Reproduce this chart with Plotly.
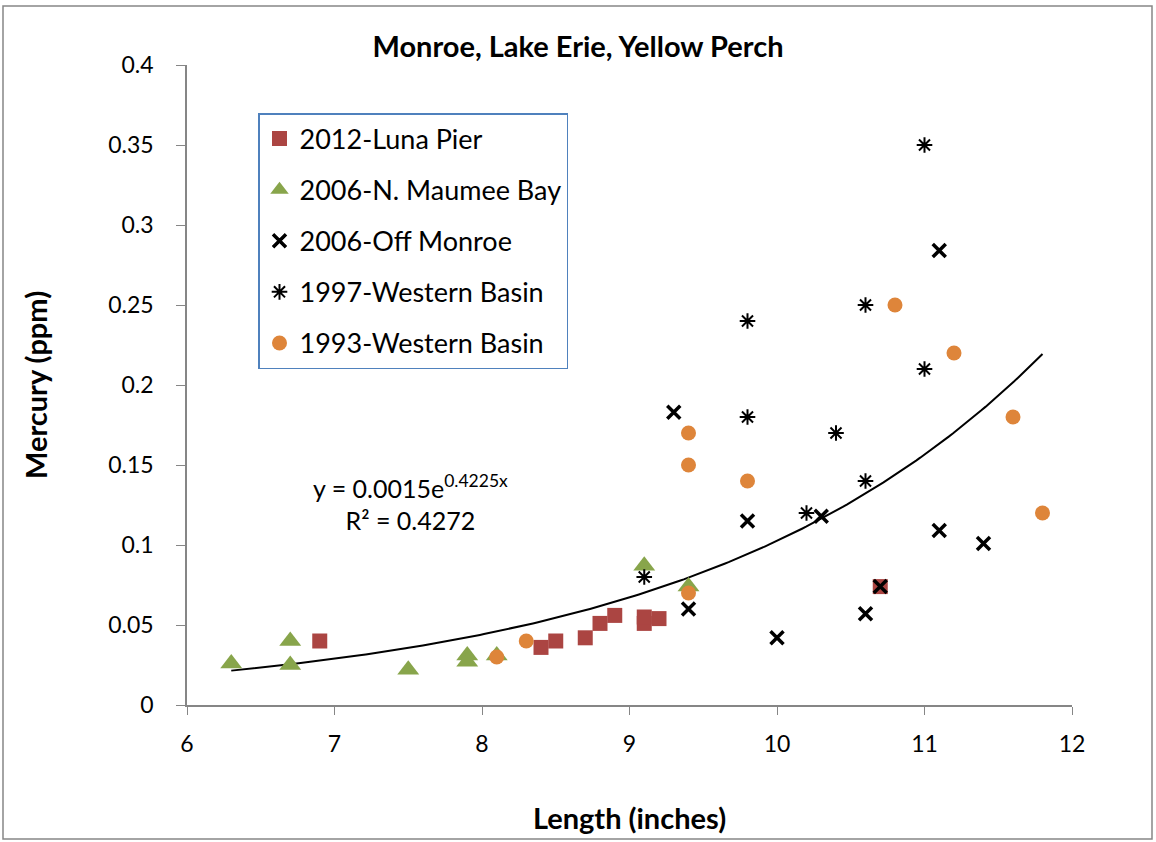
import numpy as np
import plotly.graph_objects as go

# ---------------- data ----------------
luna_x = [6.9, 8.4, 8.5, 8.7, 8.8, 8.9, 9.1, 9.1, 9.2, 10.7]
luna_y = [0.040, 0.036, 0.040, 0.042, 0.051, 0.056, 0.051, 0.055, 0.054, 0.074]

maumee_x = [6.3, 6.7, 6.7, 7.5, 7.9, 7.9, 8.1, 9.1, 9.4]
maumee_y = [0.026, 0.040, 0.025, 0.022, 0.031, 0.027, 0.031, 0.087, 0.074]

monroe_x = [9.3, 9.4, 9.8, 10.0, 10.3, 10.6, 10.7, 11.1, 11.1, 11.4]
monroe_y = [0.183, 0.060, 0.115, 0.042, 0.118, 0.057, 0.074, 0.284, 0.109, 0.101]

wb1997_x = [9.1, 9.8, 9.8, 10.2, 10.4, 10.6, 10.6, 11.0, 11.0]
wb1997_y = [0.080, 0.240, 0.180, 0.120, 0.170, 0.250, 0.140, 0.350, 0.210]

wb1993_x = [8.1, 8.3, 9.4, 9.4, 9.4, 9.8, 10.8, 11.2, 11.6, 11.8]
wb1993_y = [0.030, 0.040, 0.170, 0.150, 0.070, 0.140, 0.250, 0.220, 0.180, 0.120]

series_names = ["2012-Luna Pier", "2006-N. Maumee Bay", "2006-Off Monroe",
                "1997-Western Basin", "1993-Western Basin"]

# exponential trendline shown on the chart: y = a * exp(b x)
TREND_A = 0.0015
TREND_B = 0.4225
TREND_R2 = 0.4272

x_ticks = [6, 7, 8, 9, 10, 11, 12]
y_ticks = [0, 0.05, 0.1, 0.15, 0.2, 0.25, 0.3, 0.35, 0.4]
y_tick_text = ["0", "0.05", "0.1", "0.15", "0.2", "0.25", "0.3", "0.35", "0.4"]

# ---------------- figure ----------------
FONT = "Lato, 'Open Sans', sans-serif"
W, H = 1156, 842
ML, MR, MT, MB = 187, 84, 65, 137
pw = W - ML - MR
ph = H - MT - MB

fig = go.Figure()

all_x = luna_x + maumee_x + monroe_x + wb1997_x + wb1993_x
tx = np.linspace(min(all_x), max(all_x), 200)
ty = TREND_A * np.exp(TREND_B * tx)
fig.add_trace(go.Scatter(x=tx, y=ty, mode="lines", line=dict(color="black", width=2),
                         showlegend=False, hoverinfo="skip"))

fig.add_trace(go.Scatter(x=luna_x, y=luna_y, mode="markers", name=series_names[0],
                         legendgroup="a",
                         marker=dict(symbol="square", size=15, color="#AB4542")))
fig.add_trace(go.Scatter(x=maumee_x, y=maumee_y, mode="markers", name=series_names[1],
                         legendgroup="b",
                         marker=dict(symbol="triangle-up", size=19, color="#88A54B")))
fig.add_trace(go.Scatter(x=monroe_x, y=monroe_y, mode="markers", name=series_names[2],
                         legendgroup="c",
                         marker=dict(symbol="x-thin-open", size=13, color="black",
                                     line=dict(color="black", width=3.5))))
fig.add_trace(go.Scatter(x=wb1997_x, y=wb1997_y, mode="markers", name=series_names[3],
                         legendgroup="d",
                         marker=dict(symbol="asterisk-open", size=13, color="black",
                                     line=dict(color="black", width=2))))
fig.add_trace(go.Scatter(x=wb1993_x, y=wb1993_y, mode="markers", name=series_names[4],
                         legendgroup="e",
                         marker=dict(symbol="circle", size=15, color="#DE853A")))

fig.update_layout(
    width=W, height=H,
    margin=dict(l=ML, r=MR, t=MT, b=MB, autoexpand=False),
    paper_bgcolor="white", plot_bgcolor="white",
    font=dict(family=FONT, color="black", size=23),
    title=dict(text="<b>Monroe, Lake Erie, Yellow Perch</b>", x=0.5, xref="container",
               y=1 - 47 / H, yanchor="middle", xanchor="center",
               font=dict(size=29, family=FONT)),
    xaxis=dict(range=[6, 12], tickvals=x_ticks, ticks="outside", ticklen=8,
               tickcolor="#868686", showline=True, linecolor="#868686", linewidth=1.5,
               showgrid=False, zeroline=False, tickfont=dict(size=23),
               ticklabelstandoff=10,
               title=dict(text="<b>Length (inches)</b>", font=dict(size=29), standoff=52)),
    yaxis=dict(range=[0, 0.4], tickvals=y_ticks, ticktext=y_tick_text, ticks="outside",
               ticklen=9, tickcolor="#868686", showline=True, linecolor="#868686",
               linewidth=1.5, showgrid=False, zeroline=False, tickfont=dict(size=23),
               ticklabelstandoff=18,
               title=dict(text="<b>Mercury (ppm)</b>", font=dict(size=29), standoff=52)),
    legend=dict(x=(258 - ML) / pw, y=(H - MB - 113) / ph, xanchor="left", yanchor="top",
                bordercolor="#4F81BD", borderwidth=1.5, bgcolor="white",
                font=dict(size=27, family=FONT), tracegroupgap=13,
                itemsizing="trace"),
    showlegend=True,
)

fig.add_annotation(
    x=(410 - ML) / pw, xref="paper", y=(H - MB - 502) / ph, yref="paper",
    xanchor="center", yanchor="middle",
    text=f"y = {TREND_A}e<sup>{TREND_B}x</sup><br>R² = {TREND_R2}",
    showarrow=False, align="center", font=dict(size=25, family=FONT),
)

# outer chart border
fig.add_shape(type="rect", xref="paper", yref="paper",
              x0=(3 - ML) / pw, x1=(W - 4 - ML) / pw,
              y0=-(H - 3 - MT - ph) / ph, y1=1 + (MT - 6) / ph,
              line=dict(color="#868686", width=1.5), layer="below")

fig.write_html("out.html", config={"displayModeBar": False},
               post_script="document.body.style.margin='0';document.body.style.overflow='hidden';")
